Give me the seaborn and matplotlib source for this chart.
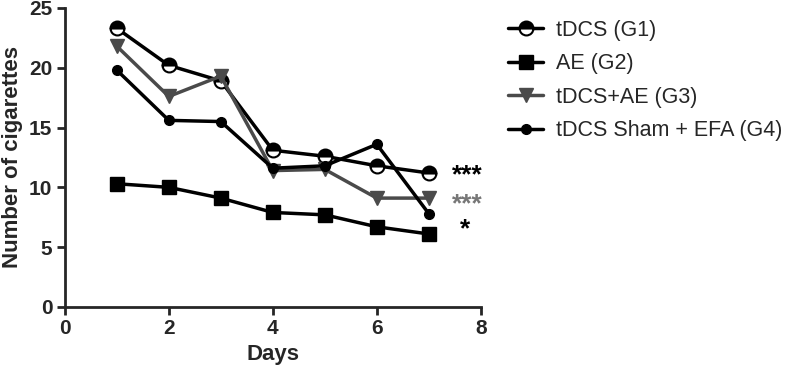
import matplotlib
matplotlib.use("Agg")
import matplotlib.pyplot as plt
import seaborn as sns
import pandas as pd

days = [1, 2, 3, 4, 5, 6, 7]
g1 = [23.3, 20.2, 18.9, 13.1, 12.6, 11.8, 11.2]
g2 = [10.3, 10.0, 9.1, 7.9, 7.7, 6.7, 6.1]
g3 = [21.8, 17.6, 19.3, 11.4, 11.5, 9.1, 9.1]
g4 = [19.8, 15.6, 15.5, 11.6, 11.8, 13.6, 7.8]
labels = ["tDCS (G1)", "AE (G2)", "tDCS+AE (G3)", "tDCS Sham + EFA (G4)"]
signif = ["***", None, "***", "*"]
xticks = [0, 2, 4, 6, 8]
yticks = [0, 5, 10, 15, 20, 25]

sns.set_style("ticks")
plt.rcParams['font.family'] = ['Liberation Sans', 'DejaVu Sans']

fig = plt.figure(figsize=(8, 3.78), dpi=100)
ax = fig.add_axes([0.081, 0.188, 0.52, 0.791])

series = [g1, g2, g3, g4]
colors = ["#000000", "#000000", "#4a4a4a", "#000000"]
styles = [
    dict(marker="o", markersize=10, fillstyle="top", markerfacecoloralt="white", mec="#000000", mew=1.5),
    dict(marker="s", markersize=10, mec="#000000", mew=1),
    dict(marker="v", markersize=10, mec="#4a4a4a", mew=1),
    dict(marker="o", markersize=7, mec="#000000", mew=1),
]
for vals, lab, col, st in zip(series, labels, colors, styles):
    df = pd.DataFrame({"Days": days, "val": vals})
    sns.lineplot(data=df, x="Days", y="val", ax=ax, color=col, lw=2.5,
                 label=lab, **st)

# significance markers
star_colors = ["#000000", None, "#777777", "#000000"]
star_x = [7.45, None, 7.45, 7.6]
star_dy = [-0.2, 0, -0.5, -1.3]
for vals, s, c, sx, dy in zip(series, signif, star_colors, star_x, star_dy):
    if s:
        ax.text(sx, vals[-1] + dy, s, color=c, fontsize=19, fontweight="bold",
                va="center", ha="left")

ax.set_xlim(0, 8)
ax.set_ylim(0, 25)
ax.set_xticks(xticks)
ax.set_yticks(yticks)
ax.tick_params(axis="both", width=2, length=6, labelsize=15, direction="out", pad=3)
for lbl in ax.get_xticklabels() + ax.get_yticklabels():
    lbl.set_fontweight("bold")
for sp in ["left", "bottom"]:
    ax.spines[sp].set_linewidth(2)
sns.despine(ax=ax)
ax.set_xlabel("Days", fontsize=16, fontweight="bold", labelpad=4)
ax.set_ylabel("Number of cigarettes", fontsize=16, fontweight="bold", labelpad=4)

ax.legend(loc="upper left", bbox_to_anchor=(1.02, 1.025), frameon=False,
          fontsize=15.5, handlelength=1.6, labelspacing=0.58, handletextpad=0.6)

fig.savefig("out.png", dpi=100)
